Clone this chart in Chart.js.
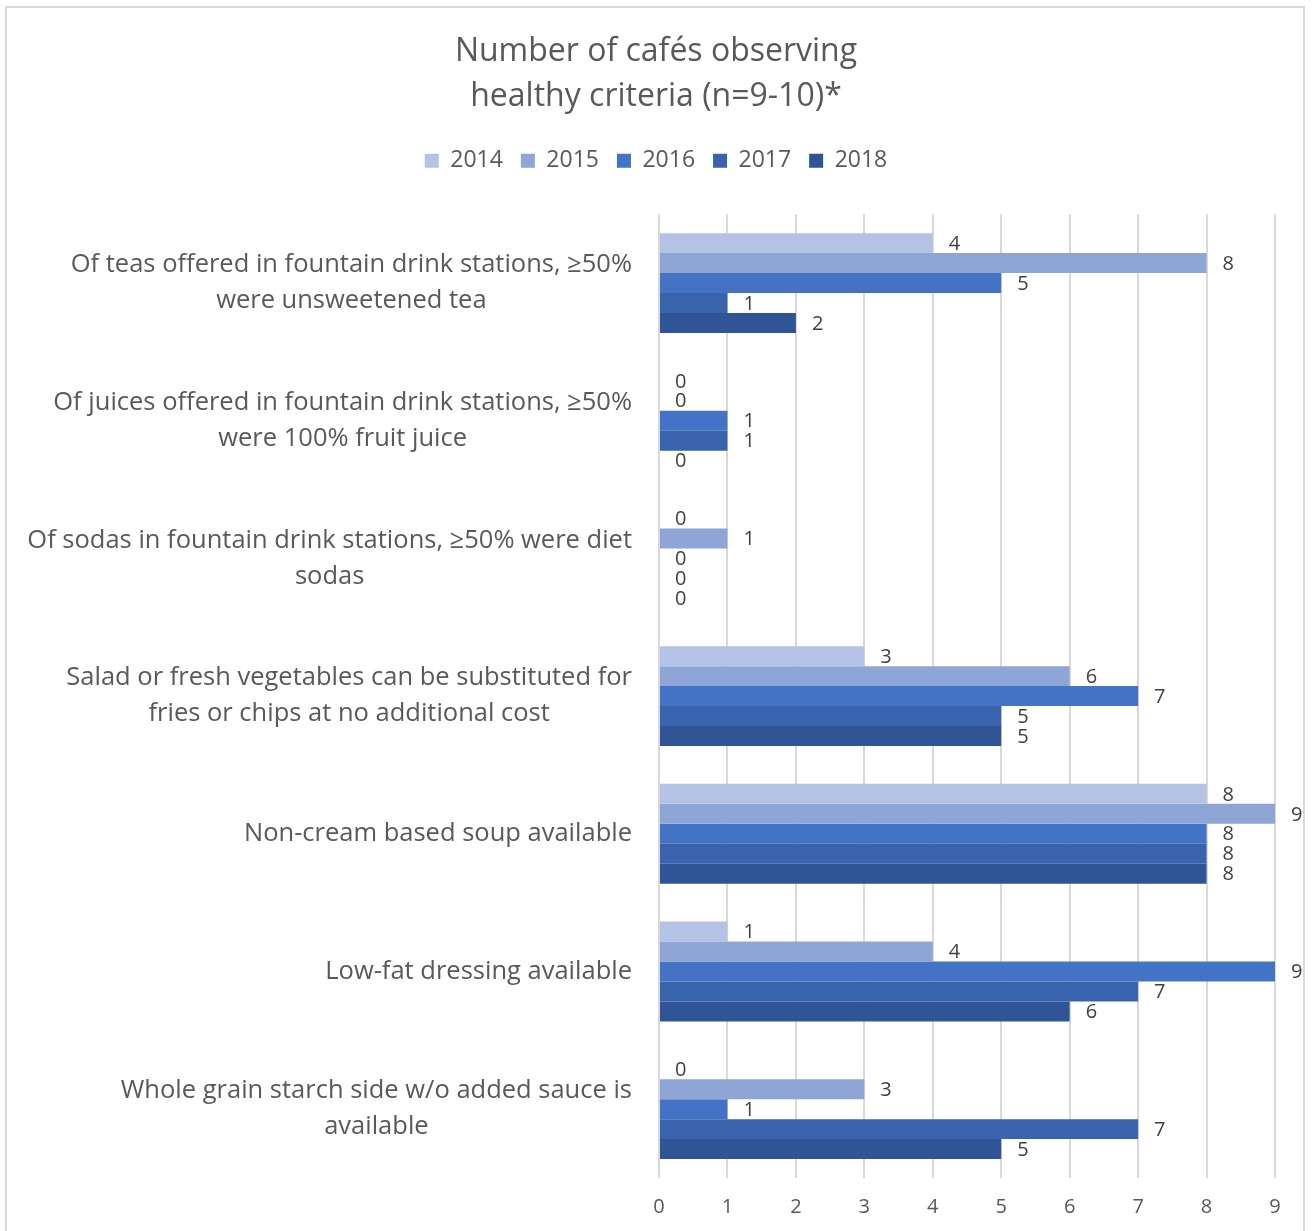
<!DOCTYPE html>
<html>
<head>
<meta charset="utf-8">
<script src="https://cdn.jsdelivr.net/npm/chart.js@4"></script>
<style>
  html, body { margin: 0; padding: 0; background: #fff; }
  #wrap { position: relative; width: 1312px; height: 1231px; }
  #frame { position: absolute; left: 5px; top: 6px; width: 1300px; height: 1230px; border: 2px solid #d9d9d9; box-sizing: border-box; pointer-events: none; }
  canvas { position: absolute; left: 0; top: 0; }
</style>
</head>
<body>
<div id="wrap">
  <canvas id="chart" width="1312" height="1231"></canvas>
  <div id="frame"></div>
</div>
<script>
const categories = [
  ["Of teas offered in fountain drink stations, ≥50%", "were unsweetened tea"],
  ["Of juices offered in fountain drink stations, ≥50%", "were 100% fruit juice"],
  ["Of sodas in fountain drink stations, ≥50% were diet", "sodas"],
  ["Salad or fresh vegetables can be substituted for", "fries or chips at no additional cost"],
  ["Non-cream based soup available"],
  ["Low-fat dressing available"],
  ["Whole grain starch side w/o added sauce is", "available"]
];
const years = ["2014", "2015", "2016", "2017", "2018"];
const v2014 = [4, 0, 0, 3, 8, 1, 0];
const v2015 = [8, 0, 1, 6, 9, 4, 3];
const v2016 = [5, 1, 0, 7, 8, 9, 1];
const v2017 = [1, 1, 0, 5, 8, 7, 7];
const v2018 = [2, 0, 0, 5, 8, 6, 5];
const xTicks = [0, 1, 2, 3, 4, 5, 6, 7, 8, 9];
const colors = ["#b4c2e5", "#8ea5d6", "#4472c4", "#3a63ad", "#2f5597"];

const series = [v2014, v2015, v2016, v2017, v2018];
const labelFont = "25.5px 'Open Sans'";

// extra room under the legend, like the Excel original
const legendGap = {
  id: "legendGap",
  beforeInit(chart) {
    const fit = chart.legend.fit;
    chart.legend.fit = function () {
      fit.call(this);
      this.height += 32;
    };
  }
};

// category labels: each line centred inside its block, block right-aligned
const catLabels = {
  id: "catLabels",
  afterDraw(chart) {
    const ctx = chart.ctx;
    const yScale = chart.scales.y;
    const right = chart.chartArea.left - 27;
    ctx.save();
    ctx.font = labelFont;
    ctx.fillStyle = "#595959";
    ctx.textAlign = "center";
    ctx.textBaseline = "middle";
    categories.forEach((lines, i) => {
      const w = Math.max(...lines.map(l => ctx.measureText(l).width));
      const cx = right - w / 2;
      const cy = yScale.getPixelForTick(i);
      const lh = 36;
      lines.forEach((l, k) => {
        ctx.fillText(l, cx, cy + (k - (lines.length - 1) / 2) * lh);
      });
    });
    ctx.restore();
  }
};

// value next to each bar end
const valueLabels = {
  id: "valueLabels",
  afterDatasetsDraw(chart) {
    const ctx = chart.ctx;
    ctx.save();
    ctx.font = "20px 'Open Sans'";
    ctx.fillStyle = "#404040";
    ctx.textAlign = "left";
    ctx.textBaseline = "middle";
    chart.data.datasets.forEach((ds, i) => {
      chart.getDatasetMeta(i).data.forEach((bar, j) => {
        ctx.fillText(String(ds.data[j]), bar.x + 16, bar.y + 1);
      });
    });
    ctx.restore();
  }
};

new Chart(document.getElementById("chart"), {
  type: "bar",
  data: {
    labels: categories,
    datasets: years.map((y, i) => ({
      label: y,
      data: series[i],
      backgroundColor: colors[i],
      borderWidth: 0,
      categoryPercentage: 0.725,
      barPercentage: 1.0
    }))
  },
  options: {
    indexAxis: "y",
    responsive: false,
    animation: false,
    layout: { padding: { top: 19, right: 37, bottom: -5, left: 37 } },
    plugins: {
      title: {
        display: true,
        text: ["Number of cafés observing", "healthy criteria (n=9-10)*"],
        color: "#595959",
        font: { family: "'Open Sans'", size: 32, weight: "normal", lineHeight: 1.4 },
        padding: { top: 10.6, bottom: 12 }
      },
      legend: {
        position: "top",
        labels: {
          color: "#595959",
          font: { family: "'Open Sans'", size: 23 },
          boxWidth: 14,
          boxHeight: 14,
          padding: 18
        }
      },
      tooltip: { enabled: false }
    },
    scales: {
      x: {
        min: 0,
        max: 9,
        afterBuildTicks(scale) { scale.ticks = xTicks.map(v => ({ value: v })); },
        grid: { color: "#d9d9d9", lineWidth: 2, drawTicks: false },
        border: { display: false },
        ticks: { color: "#595959", font: { family: "'Open Sans'", size: 20 }, padding: 17 }
      },
      y: {
        grid: { display: false },
        border: { display: false },
        afterFit(scale) {
          scale.width = 622;
          scale.paddingTop = 0;
          scale.paddingBottom = 0;
        },
        ticks: { color: "rgba(0,0,0,0)", font: { size: 4 }, callback: () => "", padding: 27 }
      }
    }
  },
  plugins: [legendGap, catLabels, valueLabels]
});
</script>
</body>
</html>
